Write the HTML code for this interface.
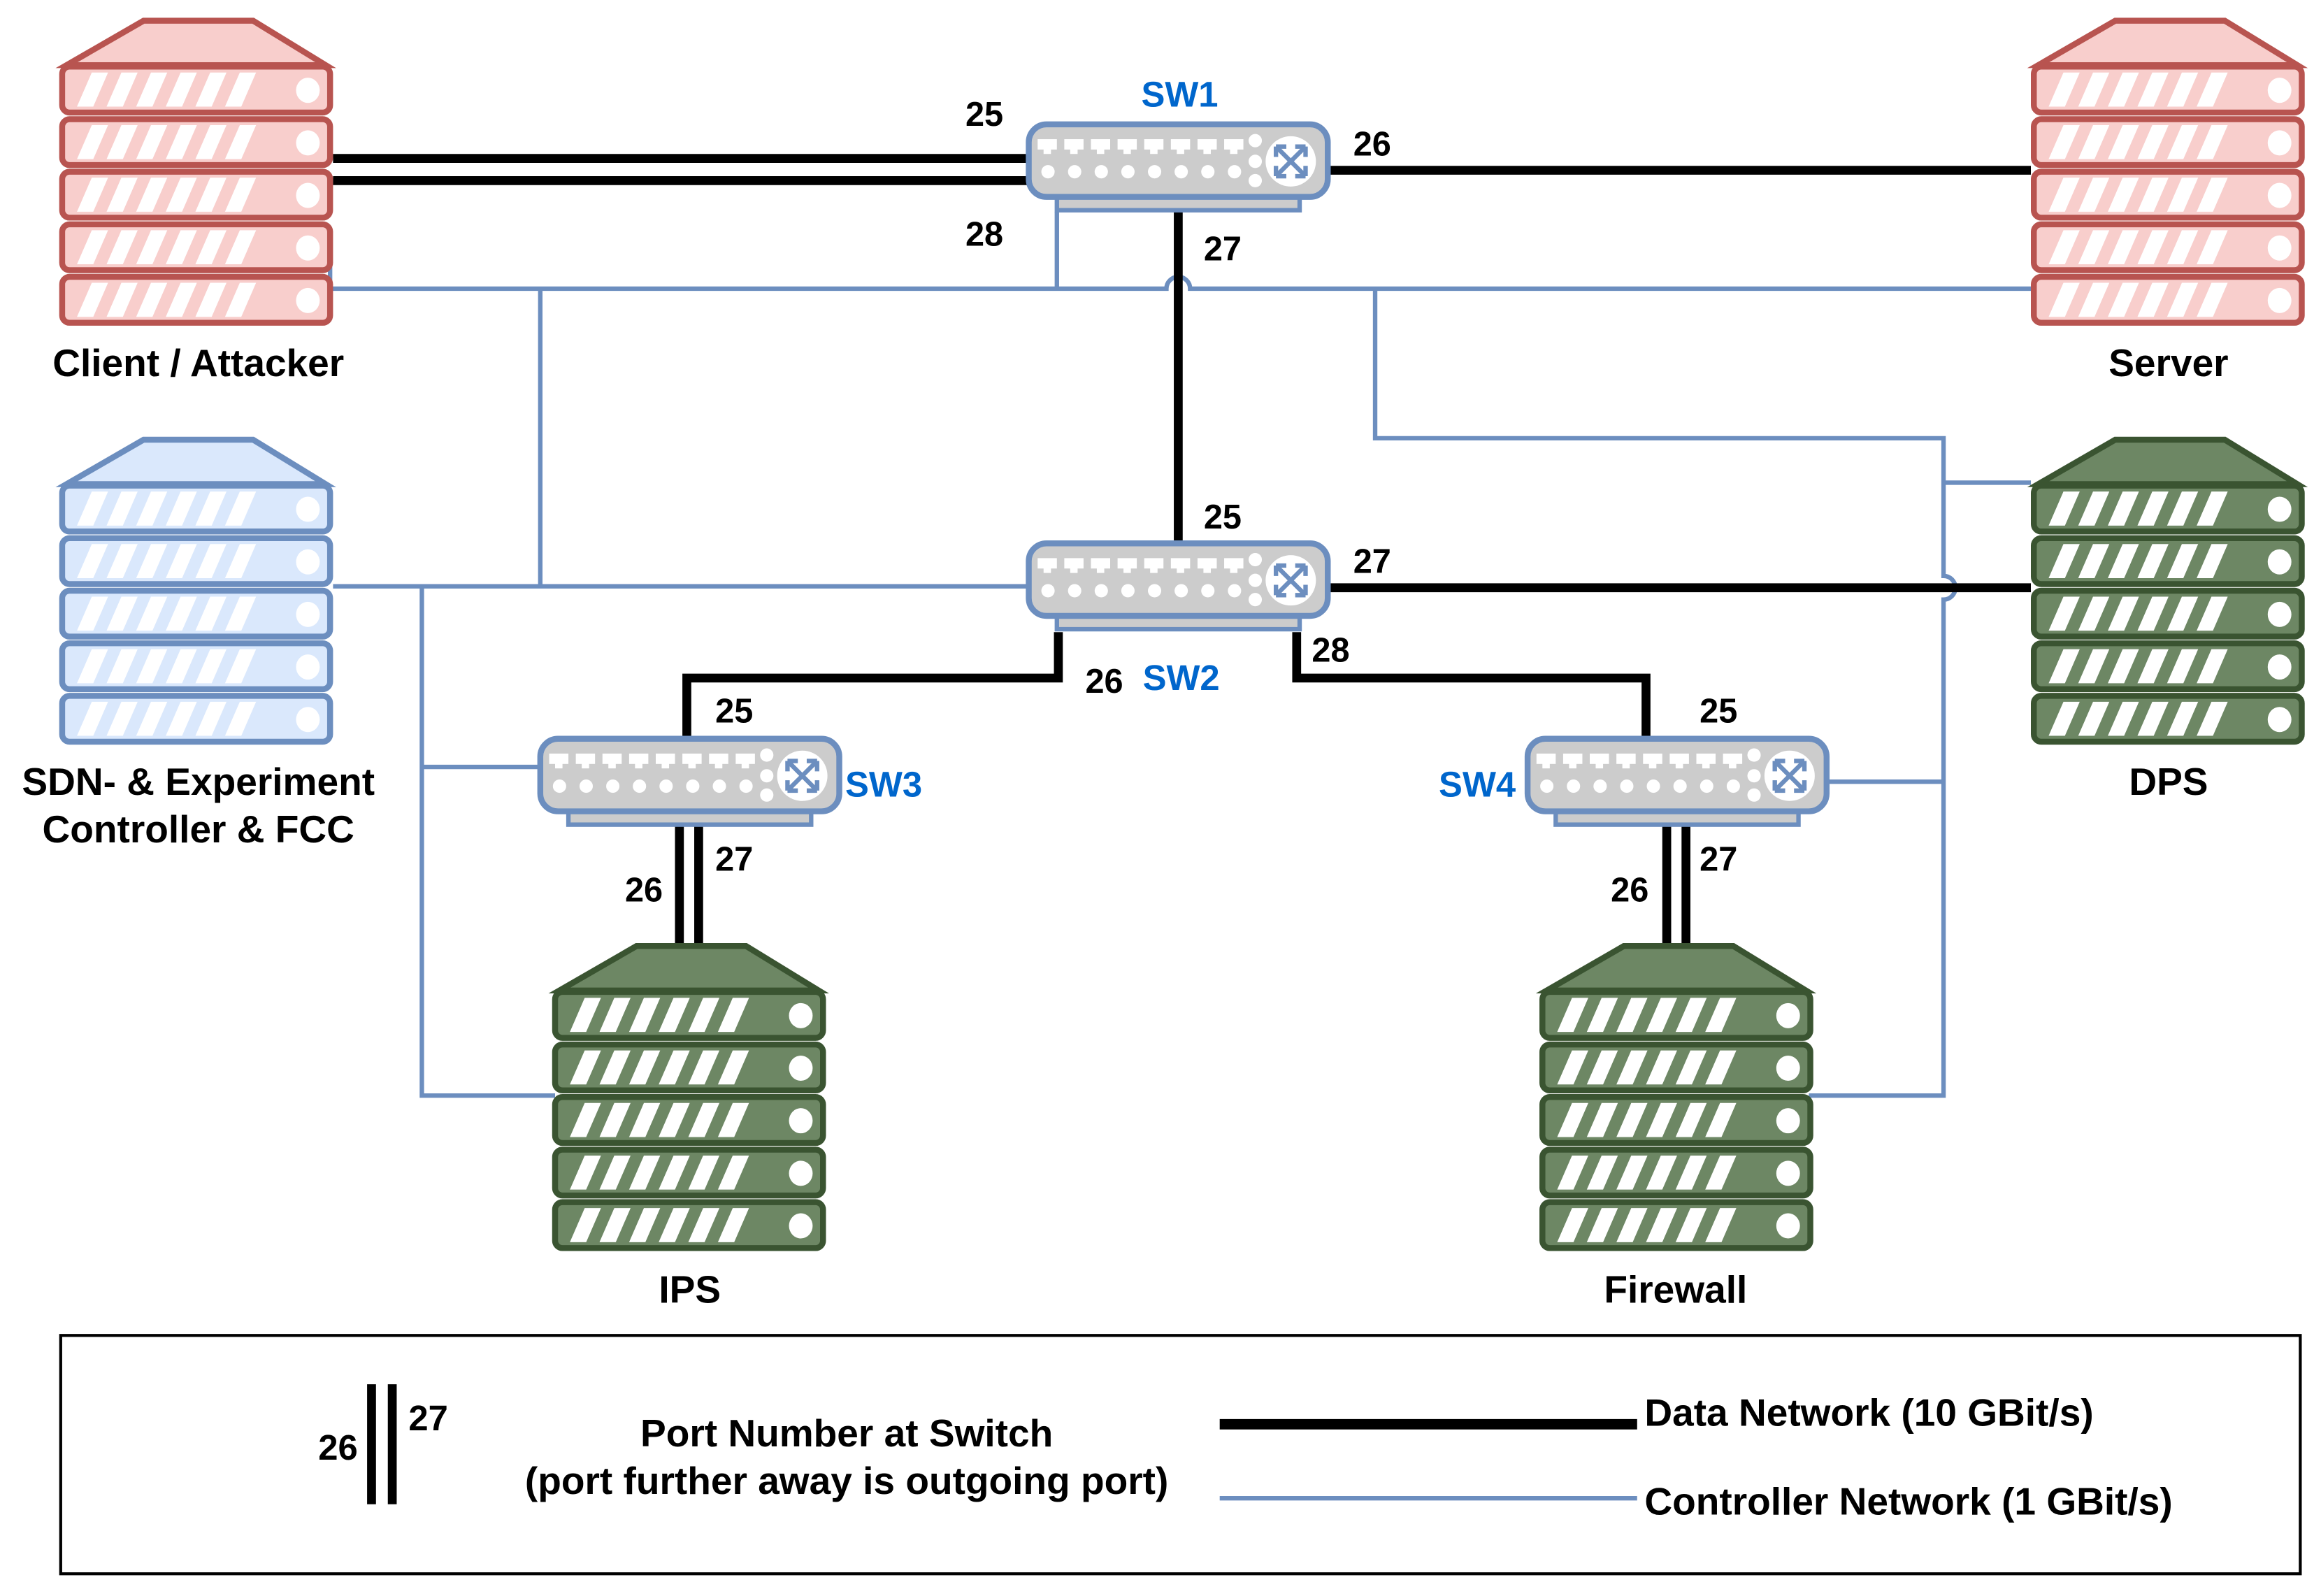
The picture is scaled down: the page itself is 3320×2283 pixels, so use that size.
<!DOCTYPE html>
<html><head><meta charset="utf-8"><style>html,body{margin:0;padding:0;background:#fff}svg{display:block}text{font-family:"Liberation Sans",sans-serif;font-weight:bold}</style></head>
<body>
<svg width="3320" height="2283" viewBox="0 0 1568 1078" preserveAspectRatio="none" xmlns="http://www.w3.org/2000/svg">
<defs>
<g id="stripes" stroke="none" fill="#fff">
<polygon points="0,27 11,27 21,4 10,4"/><polygon points="20,27 31,27 41,4 30,4"/><polygon points="40,27 51,27 61,4 50,4"/><polygon points="60,27 71,27 81,4 70,4"/><polygon points="80,27 91,27 101,4 90,4"/><polygon points="100,27 111,27 121,4 110,4"/>
<ellipse cx="156" cy="16" rx="8" ry="8.5"/>
</g>
<g id="row"><rect x="2" y="0" width="181" height="31" rx="5"/><g transform="translate(12,0)"><use href="#stripes"/></g></g>
<g id="srv">
<polygon points="57,2 131,2 180,32 5,32"/>
<use href="#row" y="33"/><use href="#row" y="68.5"/><use href="#row" y="104"/><use href="#row" y="139.5"/><use href="#row" y="175"/>
</g>
<g id="sw">
<rect x="21" y="50" width="164" height="10" fill="#ccc" stroke="#6c8ebf" stroke-width="3"/>
<rect x="2" y="2" width="202" height="49" rx="12" fill="#ccc" stroke="#6c8ebf" stroke-width="4"/>
<g fill="#fff">
<rect x="8" y="12" width="13" height="7"/><rect x="26" y="12" width="13" height="7"/><rect x="44" y="12" width="13" height="7"/><rect x="62" y="12" width="13" height="7"/><rect x="80" y="12" width="13" height="7"/><rect x="98" y="12" width="13" height="7"/><rect x="116" y="12" width="13" height="7"/><rect x="134" y="12" width="13" height="7"/>
<rect x="12" y="18" width="5" height="4"/><rect x="30" y="18" width="5" height="4"/><rect x="48" y="18" width="5" height="4"/><rect x="66" y="18" width="5" height="4"/><rect x="84" y="18" width="5" height="4"/><rect x="102" y="18" width="5" height="4"/><rect x="120" y="18" width="5" height="4"/><rect x="138" y="18" width="5" height="4"/>
<circle cx="15" cy="34" r="4.5"/><circle cx="33" cy="34" r="4.5"/><circle cx="51" cy="34" r="4.5"/><circle cx="69" cy="34" r="4.5"/><circle cx="87" cy="34" r="4.5"/><circle cx="105" cy="34" r="4.5"/><circle cx="123" cy="34" r="4.5"/><circle cx="141" cy="34" r="4.5"/>
<circle cx="155" cy="13" r="4.5"/><circle cx="155" cy="27" r="4.5"/><circle cx="155" cy="40" r="4.5"/>
<circle cx="179" cy="27" r="17"/>
</g>
<g stroke="#6c8ebf" stroke-width="3" fill="none"><path d="M169,17 L189,37 M189,17 L169,37 M169,17 l0,7 M169,17 l7,0 M189,17 l-7,0 M189,17 l0,7 M169,37 l0,-7 M169,37 l7,0 M189,37 l-7,0 M189,37 l0,-7"/></g>
</g>
</defs>

<g stroke="#6c8ebf" stroke-width="3" fill="none">
<path d="M223,178 V195 H788 A8,8 0 0 1 804,195 H1372"/>
<path d="M714,143 V195"/>
<path d="M365,195 V396"/>
<path d="M225,396 H695"/>
<path d="M285,396 V740 H375"/>
<path d="M285,518 H365"/>
<path d="M929,195 V296 H1313 V389 A8,8 0 0 1 1313,405 V740 H1222"/>
<path d="M1313,326 H1372"/>
<path d="M1313,528 H1232"/>
</g>

<g stroke="#000" stroke-width="6" fill="none">
<path d="M225,107 H695 M225,122 H695"/>
<path d="M897,115 H1372"/>
<path d="M796,143 V367"/>
<path d="M897,397 H1372"/>
<path d="M715,427 V458 H464 V499"/>
<path d="M876,427 V458 H1112 V499"/>
<path d="M459,555 V640 M472,555 V640"/>
<path d="M1126,555 V640 M1139,555 V640"/>
</g>

<g transform="translate(40,12)" fill="#f8cecc" stroke="#b85450" stroke-width="4"><use href="#srv"/></g>
<g transform="translate(1372,12)" fill="#f8cecc" stroke="#b85450" stroke-width="4"><use href="#srv"/></g>
<g transform="translate(40,295)" fill="#dae8fc" stroke="#6c8ebf" stroke-width="4"><use href="#srv"/></g>
<g transform="translate(1372,295)" fill="#6d8764" stroke="#3a5431" stroke-width="4"><use href="#srv"/></g>
<g transform="translate(373,637)" fill="#6d8764" stroke="#3a5431" stroke-width="4"><use href="#srv"/></g>
<g transform="translate(1040,637)" fill="#6d8764" stroke="#3a5431" stroke-width="4"><use href="#srv"/></g>

<use href="#sw" x="693" y="82"/>
<use href="#sw" x="693" y="365"/>
<use href="#sw" x="363" y="497"/>
<use href="#sw" x="1030" y="497"/>

<g font-size="24" fill="#0066cc">
<text x="797" y="72" text-anchor="middle">SW1</text>
<text x="798" y="466" text-anchor="middle">SW2</text>
<text x="571" y="538">SW3</text>
<text x="972" y="538">SW4</text>
</g>
<g font-size="23" fill="#000" text-anchor="middle">
<text x="665" y="85">25</text><text x="665" y="166">28</text><text x="927" y="105">26</text><text x="826" y="176">27</text>
<text x="826" y="357">25</text><text x="927" y="387">27</text><text x="746" y="468">26</text><text x="899" y="447">28</text>
<text x="496" y="488">25</text><text x="496" y="588">27</text><text x="435" y="609">26</text>
<text x="1161" y="488">25</text><text x="1161" y="588">27</text><text x="1101" y="609">26</text>
</g>
<g font-size="26" fill="#000" text-anchor="middle">
<text x="134" y="254">Client / Attacker</text>
<text x="1465" y="254">Server</text>
<text x="134" y="537">SDN- &amp; Experiment</text>
<text x="134" y="569">Controller &amp; FCC</text>
<text x="1465" y="537">DPS</text>
<text x="466" y="880">IPS</text>
<text x="1132" y="880">Firewall</text>
</g>

<rect x="41" y="902" width="1513" height="161" fill="none" stroke="#000" stroke-width="2"/>
<path d="M251,935 V1016 M265,935 V1016" stroke="#000" stroke-width="6"/>
<g font-size="24" fill="#000">
<text x="276" y="966">27</text>
<text x="215" y="986">26</text>
</g>
<g font-size="26" fill="#000">
<text x="572" y="977" text-anchor="middle">Port Number at Switch</text>
<text x="572" y="1009" text-anchor="middle">(port further away is outgoing port)</text>
<text x="1111" y="963">Data Network (10 GBit/s)</text>
<text x="1111" y="1023">Controller Network (1 GBit/s)</text>
</g>
<path d="M824,962 H1106" stroke="#000" stroke-width="7"/>
<path d="M824,1012 H1106" stroke="#6c8ebf" stroke-width="3"/>
</svg>
</body></html>
